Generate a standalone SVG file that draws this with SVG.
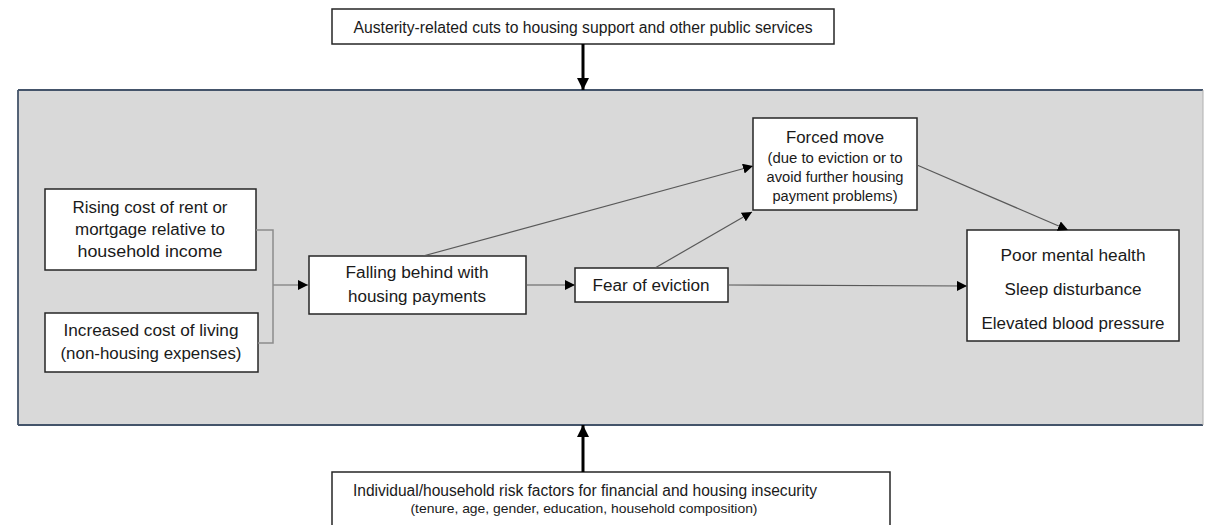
<svg xmlns="http://www.w3.org/2000/svg" width="1205" height="525" viewBox="0 0 1205 525">
  <style>
    .box { fill: #ffffff; stroke: #262626; stroke-width: 1.5; }
    .t { font-family: "Liberation Sans", Arial, sans-serif; font-size: 16px; fill: #1a1a1a; text-anchor: middle; }
    .s { font-size: 14px; }
    .xs { font-size: 13px; }
    .link { fill: none; stroke: #595959; stroke-width: 1.2; }
    .bracket { fill: none; stroke: #8c8c8c; stroke-width: 1.5; }
    .thick { fill: none; stroke: #000000; stroke-width: 3; }
  </style>
  <defs>
    <marker id="tip" viewBox="0 0 10 10" refX="10" refY="5" markerWidth="10" markerHeight="10" markerUnits="userSpaceOnUse" orient="auto">
      <path d="M0,0 L10,5 L0,10 Z" fill="#000000"/>
    </marker>
    <marker id="bigtip" viewBox="0 0 10 10" refX="10" refY="5" markerWidth="12" markerHeight="12" markerUnits="userSpaceOnUse" orient="auto">
      <path d="M0,0 L10,5 L0,10 Z" fill="#000000"/>
    </marker>
  </defs>

  <!-- shaded panel holding the causal pathway -->
  <g id="panel">
    <rect x="18" y="90" width="1185" height="335" fill="#d9d9d9"/>
    <path d="M18,90 H1203 M18,425 H1203 M18,90 V425" fill="none" stroke="#44546a" stroke-width="1.8"/>
    <path d="M1203,90 V425" fill="none" stroke="#b0b0b0" stroke-width="1"/>
  </g>

  <g id="austerity">
    <rect class="box" x="332" y="9" width="502" height="35"/>
    <text class="t" x="583" y="33" textLength="459" lengthAdjust="spacingAndGlyphs">Austerity-related cuts to housing support and other public services</text>
  </g>

  <g id="rising-cost">
    <rect class="box" x="45" y="189" width="211" height="81"/>
    <text class="t" x="150" y="213" textLength="155" lengthAdjust="spacingAndGlyphs">Rising cost of rent or</text>
    <text class="t" x="150" y="235" textLength="150" lengthAdjust="spacingAndGlyphs">mortgage relative to</text>
    <text class="t" x="150" y="257" textLength="145" lengthAdjust="spacingAndGlyphs">household income</text>
  </g>

  <g id="cost-of-living">
    <rect class="box" x="45" y="313" width="213" height="59"/>
    <text class="t" x="151" y="336" textLength="175" lengthAdjust="spacingAndGlyphs">Increased cost of living</text>
    <text class="t" x="151" y="359" textLength="181" lengthAdjust="spacingAndGlyphs">(non-housing expenses)</text>
  </g>

  <g id="falling-behind">
    <rect class="box" x="309" y="256" width="217" height="58"/>
    <text class="t" x="417" y="278" textLength="143" lengthAdjust="spacingAndGlyphs">Falling behind with</text>
    <text class="t" x="417" y="302" textLength="138" lengthAdjust="spacingAndGlyphs">housing payments</text>
  </g>

  <g id="fear-of-eviction">
    <rect class="box" x="575" y="268" width="153" height="34"/>
    <text class="t" x="651" y="290.5" textLength="117" lengthAdjust="spacingAndGlyphs">Fear of eviction</text>
  </g>

  <g id="forced-move">
    <rect class="box" x="753" y="118" width="164" height="92"/>
    <text class="t" x="835" y="142.5" textLength="98" lengthAdjust="spacingAndGlyphs" style="font-size:17px">Forced move</text>
    <text class="t s" x="835" y="163" textLength="135" lengthAdjust="spacingAndGlyphs">(due to eviction or to</text>
    <text class="t s" x="835" y="182" textLength="137" lengthAdjust="spacingAndGlyphs">avoid further housing</text>
    <text class="t s" x="835" y="201" textLength="125" lengthAdjust="spacingAndGlyphs">payment problems)</text>
  </g>

  <g id="health-outcomes">
    <rect class="box" x="967" y="230" width="212" height="111"/>
    <text class="t" x="1073" y="260.5" textLength="145" lengthAdjust="spacingAndGlyphs">Poor mental health</text>
    <text class="t" x="1073" y="294.5" textLength="137" lengthAdjust="spacingAndGlyphs">Sleep disturbance</text>
    <text class="t" x="1073" y="328.5" textLength="183" lengthAdjust="spacingAndGlyphs">Elevated blood pressure</text>
  </g>

  <g id="risk-factors">
    <rect class="box" x="332" y="472" width="558" height="60"/>
    <text class="t" x="585" y="495.5" textLength="464" lengthAdjust="spacingAndGlyphs">Individual/household risk factors for financial and housing insecurity</text>
    <text class="t xs" x="584" y="512.5" textLength="347" lengthAdjust="spacingAndGlyphs">(tenure, age, gender, education, household composition)</text>
  </g>

  <g id="connectors">
    <!-- contextual influences on the panel -->
    <line class="thick" x1="583" y1="44" x2="583" y2="90" marker-end="url(#bigtip)"/>
    <line class="thick" x1="583" y1="472" x2="583" y2="425" marker-end="url(#bigtip)"/>
    <!-- the two cost pressures join before the payment box -->
    <path class="bracket" d="M256,230 H273 V343 H258"/>
    <line class="bracket" x1="273" y1="285" x2="308" y2="285" marker-end="url(#tip)"/>
    <!-- pathway arrows -->
    <line class="link" x1="526" y1="285" x2="575" y2="285" marker-end="url(#tip)"/>
    <line class="link" x1="728" y1="285" x2="967" y2="286" marker-end="url(#tip)"/>
    <line class="link" x1="423" y1="256" x2="753" y2="166" marker-end="url(#tip)"/>
    <line class="link" x1="655" y1="268" x2="752" y2="212" marker-end="url(#tip)"/>
    <line class="link" x1="917" y1="165" x2="1068" y2="230" marker-end="url(#tip)"/>
  </g>
</svg>
